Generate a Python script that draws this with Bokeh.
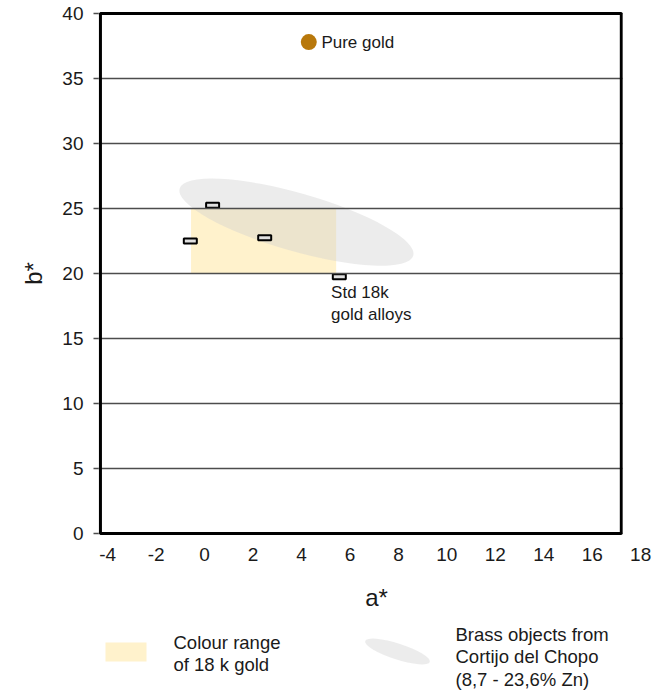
import math
from bokeh.plotting import figure
from bokeh.layouts import column
from bokeh.models import Range1d, FixedTicker, BoxAnnotation
from bokeh.core.properties import value
from bokeh.embed import file_html
from bokeh.resources import INLINE

FONT = "Liberation Sans"
TXT = "#1a1a1a"

# ---- data ----
x_ticks = [-4, -2, 0, 2, 4, 6, 8, 10, 12, 14, 16, 18]
x_tick_labels = ["-4", "-2", "0", "2", "4", "6", "8", "10", "12", "14", "16", "18"]
y_ticks = [0, 5, 10, 15, 20, 25, 30, 35, 40]

box_a = [-4.3, 17.2]                     # extent of the boxed chart area
box_b = [0, 40]

alloy_a = [-0.59, 0.33, 2.48, 5.56]      # Std 18k gold alloys
alloy_b = [22.5, 25.25, 22.75, 19.75]

gold_a = [4.30]                          # Pure gold
gold_b = [37.8]

range18k_a = [-0.56, 5.43]               # colour range of 18 k gold
range18k_b = [20.0, 25.0]

brass_center_a = [3.79]                  # brass objects (ellipse)
brass_center_b = [23.95]
brass_width_a = [10.03]
brass_height_b = [4.46]
brass_angle_deg = [-16]

legend_labels = ["Colour range\nof 18 k gold",
                 "Brass objects from\nCortijo del Chopo\n(8,7 - 23,6% Zn)"]
point_labels = ["Pure gold", "Std 18k\ngold alloys"]

YELLOW = "#fff2cc"
GREY = "#cfcfcf"

PX_A = 24.23   # px per a* unit
PX_B = 13.0    # px per b* unit

# ---- main chart ----
p = figure(frame_width=556, frame_height=524,
           x_range=Range1d(-4.38, 18.57),
           y_range=Range1d(-2 / PX_B, 40 + 2 / PX_B),
           output_backend="svg", toolbar_location=None,
           min_border_left=98, min_border_right=0,
           min_border_top=11, min_border_bottom=86)
p.background_fill_color = "white"
p.border_fill_color = "white"
p.outline_line_color = None

p.xgrid.visible = False
p.ygrid.ticker = FixedTicker(ticks=y_ticks)
p.ygrid.grid_line_color = "#4d4d4d"
p.ygrid.grid_line_width = 1.3
p.ygrid.level = "annotation"

p.yaxis.ticker = FixedTicker(ticks=y_ticks)
p.yaxis.axis_line_color = None
p.yaxis.major_tick_line_color = "#4d4d4d"
p.yaxis.major_tick_line_width = 1.3
p.yaxis.major_tick_out = 5
p.yaxis.major_tick_in = 0
p.yaxis.minor_tick_line_color = None
p.yaxis.major_label_standoff = 10
p.yaxis.axis_label = "b*"
p.yaxis.axis_label_standoff = 12

p.xaxis.ticker = FixedTicker(ticks=x_ticks)
p.xaxis.major_label_overrides = {t: s for t, s in zip(x_ticks, x_tick_labels)}
p.xaxis.axis_line_color = None
p.xaxis.major_tick_line_color = None
p.xaxis.minor_tick_line_color = None
p.xaxis.major_tick_out = 0
p.xaxis.major_tick_in = 0
p.xaxis.major_label_standoff = 12
p.xaxis.axis_label = "a*"
p.xaxis.axis_label_standoff = 20

for ax in (p.xaxis[0], p.yaxis[0]):
    ax.major_label_text_font = FONT
    ax.major_label_text_font_size = "19px"
    ax.major_label_text_color = TXT
    ax.axis_label_text_font = FONT
    ax.axis_label_text_font_size = "24px"
    ax.axis_label_text_font_style = "normal"
    ax.axis_label_text_color = TXT

p.quad(left=[range18k_a[0]], right=[range18k_a[1]],
       bottom=[range18k_b[0]], top=[range18k_b[1]],
       fill_color=YELLOW, line_color=None)
p.ellipse(x=brass_center_a, y=brass_center_b, width=brass_width_a,
          height=brass_height_b,
          angle=[math.radians(a) for a in brass_angle_deg],
          fill_color=GREY, fill_alpha=0.4, line_color=None)
p.rect(x=alloy_a, y=alloy_b, width=13, height=5,
       width_units="screen", height_units="screen",
       fill_color="#e0e0e0", line_color="black", line_width=2)
p.scatter(x=gold_a, y=gold_b, size=16, fill_color="#b8780b", line_color=None)

p.text(x=[gold_a[0] + 0.52], y=gold_b, text=[point_labels[0]],
       text_font=value(FONT), text_font_size="17px", text_color=TXT,
       text_baseline="middle", text_align="left")
p.text(x=[alloy_a[3] - 0.34], y=[19.25], text=[point_labels[1]],
       text_font=value(FONT), text_font_size="17px", text_color=TXT,
       text_baseline="top", text_align="left", text_line_height=1.12)

# blank out everything right of the boxed area, then draw the box border
p.add_layout(BoxAnnotation(left=box_a[1] + 1.5 / PX_A, fill_color="white",
                           fill_alpha=1.0, line_color=None, level="overlay"))
p.quad(left=[box_a[0]], right=[box_a[1]], bottom=[box_b[0]], top=[box_b[1]],
       fill_color=None, line_color="black", line_width=3, level="overlay")

# ---- legend strip (coordinates = picture pixels) ----
lg = figure(frame_width=556, frame_height=70,
            x_range=Range1d(98, 654), y_range=Range1d(691, 621),
            output_backend="svg", toolbar_location=None,
            x_axis_location=None, y_axis_location=None,
            min_border_left=98, min_border_right=0,
            min_border_top=0, min_border_bottom=0)
lg.grid.visible = False
lg.outline_line_color = None
lg.background_fill_color = "white"
lg.border_fill_color = "white"

lg.rect(x=[125.5], y=[651.5], width=[41], height=[19],
        fill_color=YELLOW, line_color=None)
lg.ellipse(x=[397], y=[651], width=[68], height=[16],
           angle=[math.radians(-18)],
           fill_color=GREY, fill_alpha=0.4, line_color=None)
lg.text(x=[173, 455], y=[631, 623], text=legend_labels,
        text_font=value(FONT), text_font_size="18.5px", text_color=TXT,
        text_baseline="top", text_align="left", text_line_height=1.08)

layout = column(p, lg, spacing=0)
open("out.html", "w").write(file_html(layout, INLINE))
